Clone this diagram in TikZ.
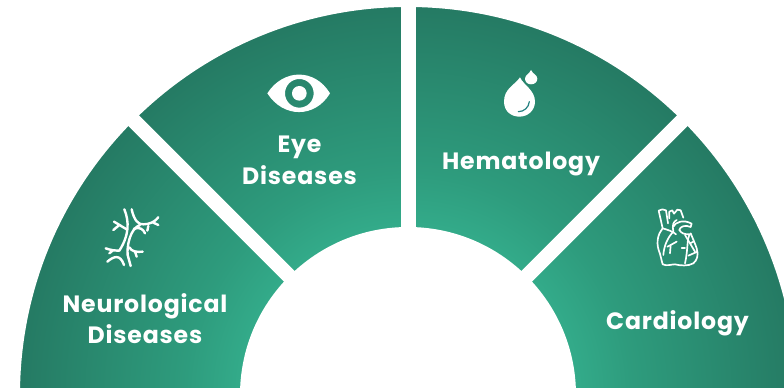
\documentclass[tikz,border=0pt]{standalone}
\usepackage{fontspec}
\setmainfont[LetterSpace=3.5]{Poppins}
\usepackage{tikz}

\pgfdeclareradialshading{fanteal}{\pgfpoint{0bp}{0bp}}{%
  rgb(0bp)=(0.20,0.67,0.54);
  rgb(10.5bp)=(0.20,0.67,0.54);
  rgb(14bp)=(0.18,0.61,0.49);
  rgb(24.25bp)=(0.145,0.48,0.39);
  rgb(25bp)=(0.145,0.48,0.39);
  rgb(50bp)=(0.145,0.48,0.39)}

\tikzset{
  label/.style={font=\bfseries\fontsize{16.8}{22.5}\selectfont,white,align=center},
  twig/.style={white,line width=0.06cm,line cap=round,line join=round},
  fineline/.style={white,line width=0.042cm,line cap=round,line join=round},
  icon/.style={x=0.025cm/3,y=-0.025cm/3}
}

\begin{document}
\begin{tikzpicture}[x=0.025cm,y=0.025cm]
  \useasboundingbox (0,0) rectangle (784,388);
  \clip (0,0) rectangle (784,388);

  % ---------------- fan: shaded disc, hole and gaps ----------------
  \coordinate (hub) at (408,-7);
  \shade[shading=fanteal] (hub) circle (400);
  \fill[white] (0,389) -- (784,389) -- (784,-10) -- (0,-10) -- cycle
    (hub) circle (388);
  \fill[white] (hub) circle (168);
  \foreach \ang in {45,90,135}
    \draw[white,line width=0.375cm] (hub) -- ++(\ang:420);

  % ---------------- labels ----------------
  \node[label] (neuro) at (145,69.5) {Neurological\\Diseases};
  \node[label] (eye) at (299.5,228) {Eye\\Diseases};
  \node[label] (hema) at (521,224) {Hematology};
  \node[label] (cardio) at (677.5,64.5) {Cardiology};

  % ---------------- neurological icon ----------------
  \begin{scope}[shift={(90,198)},icon]
    \draw[twig] (103,58) .. controls (118,95) and (118,135) .. (88,182) .. controls (75,182) and (60,180) .. (47,175);
    \draw[twig] (70,180) -- (58,190);
    \draw[twig] (52,215) .. controls (70,200) and (90,190) .. (102,225);
    \draw[twig] (72,95) -- (110,118);
    \draw[twig] (70,120) -- (88,105);
    \draw[twig] (125,58) .. controls (132,90) and (145,105) .. (160,103) .. controls (180,103) and (195,95) .. (205,82);
    \draw[twig] (190,98) -- (205,105);
    \draw[twig] (150,105) .. controls (120,115) and (110,170) .. (113,195) -- (122,228);
    \draw[twig] (132,116) .. controls (150,110) and (160,118) .. (165,130);
    \draw[twig] (175,108) -- (172,122);
    \draw[twig] (118,172) .. controls (125,185) and (140,187) .. (158,185);
    \draw[twig] (135,185) -- (140,200);
  \end{scope}

  % ---------------- eye icon ----------------
  \begin{scope}[shift={(250,328)},icon]
    \fill[white,even odd rule] (52,100) .. controls (100,25) and (195,25) .. (240,100)
      .. controls (195,175) and (100,175) .. cycle
      (148,100) circle (43) (148,100) circle (22);
  \end{scope}

  % ---------------- drop icon ----------------
  \begin{scope}[shift={(480,328)},icon]
    \fill[white] (120,52) .. controls (105,75) and (72,85) .. (72,125)
      .. controls (72,155) and (95,170) .. (118,170)
      .. controls (145,170) and (165,150) .. (165,125)
      .. controls (165,90) and (130,75) .. cycle;
    \fill[white] (153,30) .. controls (148,42) and (135,45) .. (135,56)
      .. controls (135,66) and (143,73) .. (153,73)
      .. controls (164,73) and (172,66) .. (172,56)
      .. controls (172,45) and (158,42) .. cycle;
    \draw[teal!85!black!85,line width=0.03cm,line cap=round] (148,125) .. controls (146,143) and (132,155) .. (115,155);
  \end{scope}

  % ---------------- heart icon ----------------
  \begin{scope}[shift={(640,193)},icon]
    \draw[fineline] (68,100) -- (56,47) .. controls (62,42) and (72,42) .. (78,46) -- (84,85);
    \draw[fineline] (68,100) .. controls (55,115) and (48,140) .. (56,165)
      .. controls (62,180) and (64,195) .. (68,208) .. controls (80,214) and (95,208) .. (105,208)
      .. controls (120,212) and (145,214) .. (160,205) .. controls (172,195) and (176,180) .. (170,160)
      .. controls (165,145) and (158,130) .. (152,115);
    \draw[fineline] (88,70) -- (88,50) -- (97,46) -- (102,56) -- (112,44) -- (122,46) -- (130,68);
    \draw[fineline] (100,95) .. controls (105,82) and (130,72) .. (155,86) -- (152,96)
      .. controls (135,88) and (120,95) .. (118,105);
    \draw[fineline] (110,75) .. controls (100,80) and (96,90) .. (100,110)
      .. controls (85,125) and (72,150) .. (70,180);
    \draw[fineline] (68,100) .. controls (85,105) and (100,110) .. (108,118);
    \draw[fineline] (118,105) .. controls (125,115) and (130,118) .. (150,118)
      .. controls (140,130) and (145,160) .. (135,205);
    \draw[fineline] (110,140) -- (92,150) -- (90,175);
    \draw[fineline] (92,150) -- (82,155);
    \draw[fineline] (135,120) -- (165,170);
    \draw[fineline] (150,145) -- (160,140);
    \draw[fineline] (172,170) -- (145,182);
    \draw[fineline] (125,160) -- (135,160);
  \end{scope}
\end{tikzpicture}
\end{document}
